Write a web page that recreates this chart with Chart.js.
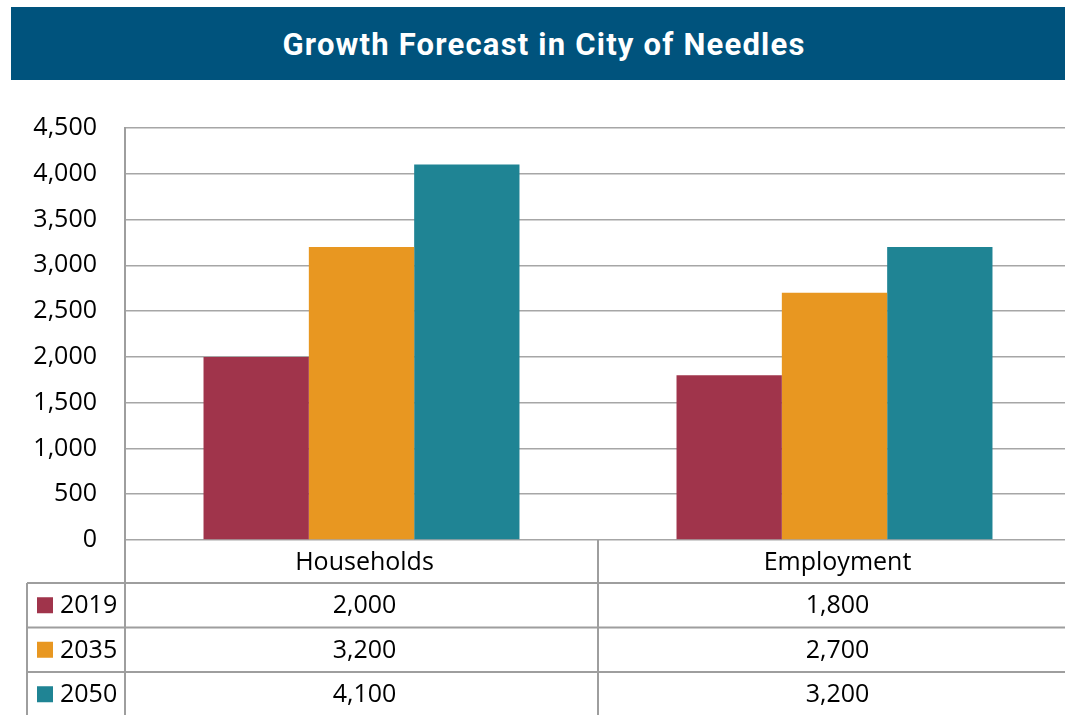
<!DOCTYPE html>
<html>
<head>
<meta charset="utf-8">
<script src="https://cdn.jsdelivr.net/npm/chart.js@4.4.0/dist/chart.umd.min.js"></script>
<style>
  html, body { margin:0; padding:0; background:#fff; width:1065px; height:715px; overflow:hidden; position:relative; }
  #banner { position:absolute; left:11px; top:7px; width:1066px; height:73px; background:#00537D;
    color:#fff; font-family:Roboto, "Open Sans", sans-serif; font-weight:700; font-size:31px;
    display:flex; align-items:center; justify-content:center; letter-spacing:1.2px; padding-top:1px; box-sizing:border-box; }
  #wrap { position:absolute; left:0; top:0; width:1071px; height:715px; }
</style>
</head>
<body>
<div id="wrap"><canvas id="c"></canvas></div>
<div id="banner">Growth Forecast in City of Needles</div>
<script>
const categories = ["Households", "Employment"];
const seriesNames = ["2019", "2035", "2050"];
const values2019 = [2000, 1800];
const values2035 = [3200, 2700];
const values2050 = [4100, 3200];
const colors = ["#A0344B", "#E89721", "#1F8494"];
const yTicks = [0, 500, 1000, 1500, 2000, 2500, 3000, 3500, 4000, 4500];

const seriesValues = [values2019, values2035, values2050];
const FONT = '"Open Sans", "Noto Sans", sans-serif';

const tablePlugin = {
  id: 'dataTable',
  afterDraw(chart) {
    const ctx = chart.ctx;
    const area = chart.chartArea;
    const xs = chart.scales.x;
    const top = area.bottom;
    const headerH = 43;
    const rowH = 44.5;
    const tableLeft = 27;
    const right = area.right;
    const bottom = top + headerH + rowH * seriesNames.length;
    ctx.save();
    ctx.strokeStyle = '#9E9E9E';
    ctx.lineWidth = 2;
    ctx.beginPath();
    for (let r = 0; r <= seriesNames.length; r++) {
      const y = top + headerH + r * rowH;
      ctx.moveTo(tableLeft, y); ctx.lineTo(right, y);
    }
    ctx.moveTo(area.left, area.top); ctx.lineTo(area.left, bottom);
    ctx.moveTo(tableLeft, top + headerH); ctx.lineTo(tableLeft, bottom);
    for (let i = 1; i < categories.length; i++) {
      const xm = (xs.getPixelForValue(i - 1) + xs.getPixelForValue(i)) / 2;
      ctx.moveTo(xm, top); ctx.lineTo(xm, bottom);
    }
    ctx.moveTo(right, top); ctx.lineTo(right, bottom);
    ctx.stroke();

    ctx.fillStyle = '#000';
    ctx.font = '25px ' + FONT;
    ctx.textAlign = 'center';
    ctx.textBaseline = 'middle';
    categories.forEach((c, i) => {
      ctx.fillText(c, xs.getPixelForValue(i) + 3, top + headerH / 2 + 1);
    });
    seriesNames.forEach((name, r) => {
      const yc = top + headerH + r * rowH + rowH / 2;
      ctx.fillStyle = colors[r];
      ctx.fillRect(37, yc - 8, 16, 16);
      ctx.fillStyle = '#000';
      ctx.textAlign = 'left';
      ctx.fillText(name, 60, yc + 1);
      ctx.textAlign = 'center';
      categories.forEach((c, i) => {
        ctx.fillText(seriesValues[r][i].toLocaleString('en-US'), xs.getPixelForValue(i) + 3, yc + 1);
      });
    });
    ctx.restore();
  }
};

new Chart(document.getElementById('c'), {
  type: 'bar',
  data: {
    labels: categories,
    datasets: seriesNames.map((n, i) => ({
      label: n,
      data: seriesValues[i],
      backgroundColor: colors[i],
      borderWidth: 0,
      categoryPercentage: 0.668,
      barPercentage: 1.0
    }))
  },
  options: {
    responsive: true,
    maintainAspectRatio: false,
    animation: false,
    devicePixelRatio: 1,
    layout: { padding: { top: 128, bottom: 175, left: 0, right: 0 } },
    plugins: { legend: { display: false }, title: { display: false }, tooltip: { enabled: false } },
    scales: {
      x: { display: false },
      y: {
        min: 0, max: 4500,
        afterFit(scale) { scale.width = 125; },
        afterBuildTicks(scale) { scale.ticks = yTicks.map(v => ({ value: v })); },
        ticks: {
          padding: 28,
          color: '#000',
          font: { family: FONT, size: 25 },
          callback: v => v.toLocaleString('en-US')
        },
        grid: { color: '#A6A6A6', lineWidth: 1.5, drawTicks: false },
        border: { display: true, color: '#9E9E9E', width: 2 }
      }
    }
  },
  plugins: [tablePlugin]
});
</script>
</body>
</html>
